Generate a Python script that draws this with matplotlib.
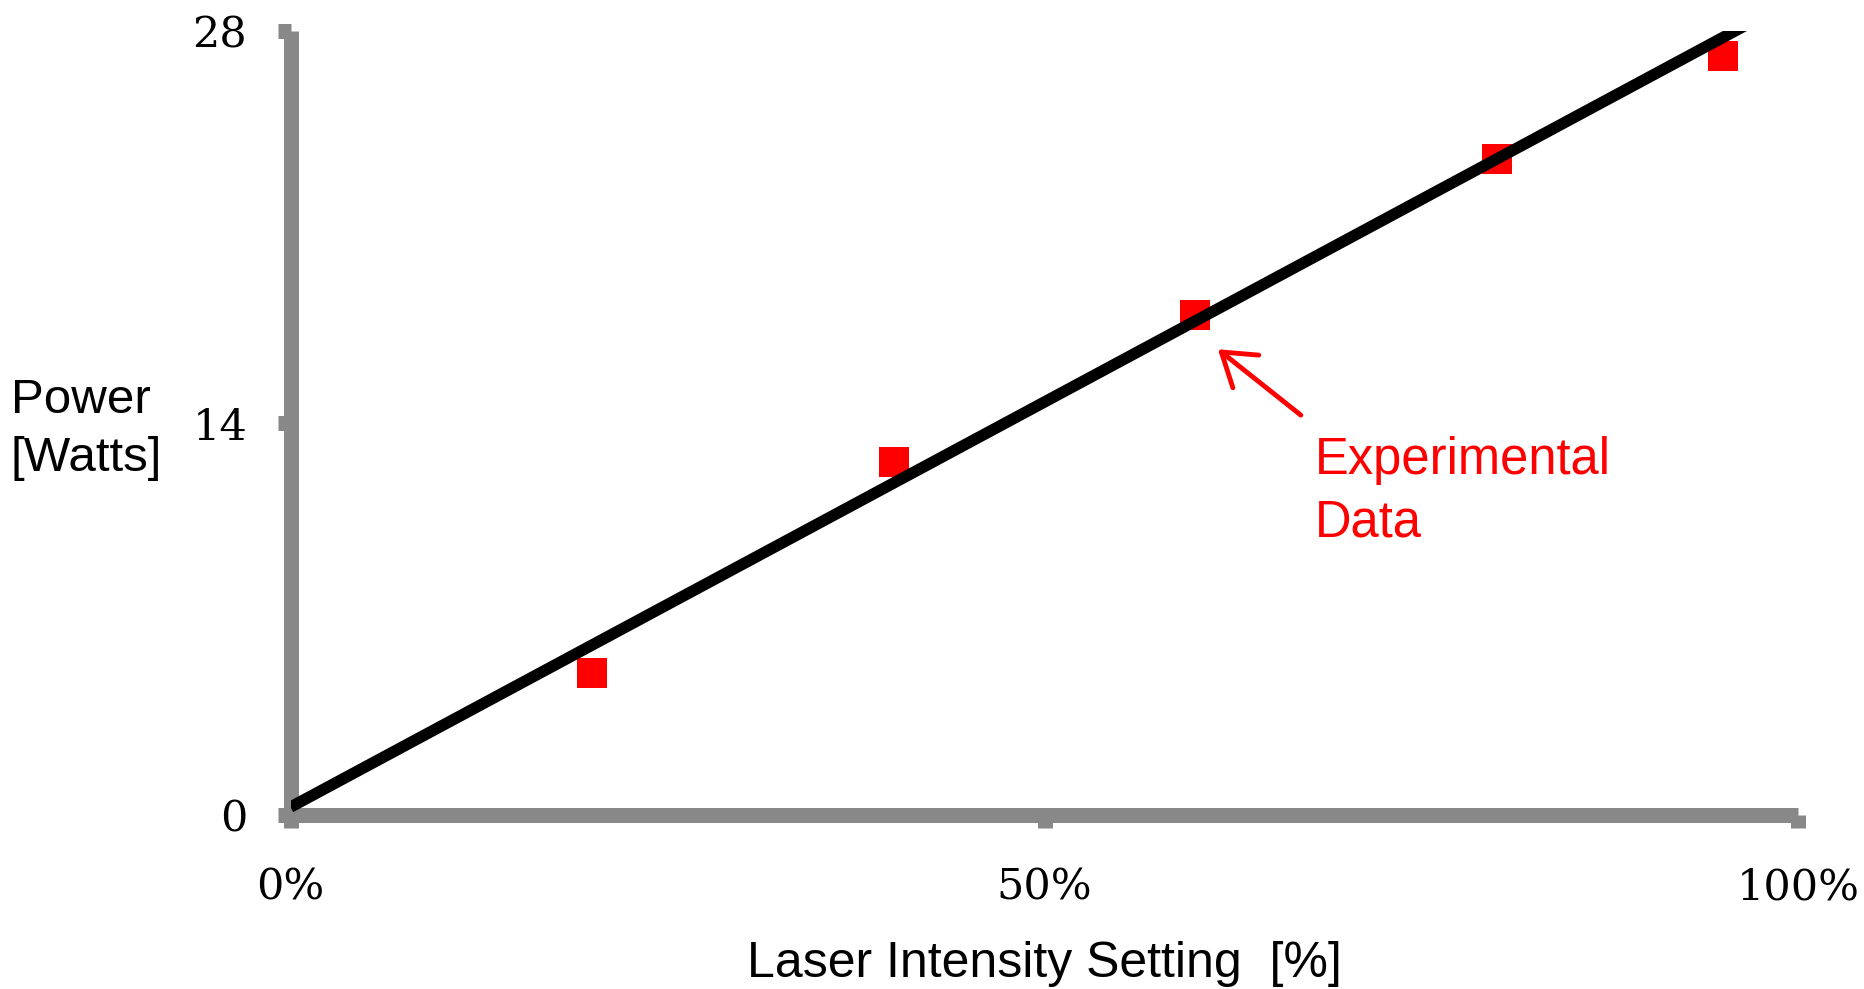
import numpy as np
import matplotlib
matplotlib.use('Agg')
import matplotlib.pyplot as plt

# measured points (laser setting %, power W)
intensity = [20, 40, 60, 80, 95]
power = [5.1, 12.6, 17.85, 23.4, 27.1]

# linear fit drawn across the full range
fit_x = [0, 100]
fit_y = [0.3, 29.2]

x_ticks = [0, 50, 100]
x_ticklabels = ['0%', '50%', '100%']
y_ticks = [0, 14, 28]
y_ticklabels = ['0', '14', '28']

GREY = '#888888'
SANS = ['Liberation Sans', 'DejaVu Sans']
SERIF = ['DejaVu Serif', 'Liberation Serif']


def main():
    fig = plt.figure(figsize=(18.64, 9.89), dpi=100)
    ax = fig.add_axes([0.15585, 0.17543, 0.80901, 0.79373])

    ax.plot(intensity, power, 's', color='#ff0000', markersize=22.3,
            markeredgewidth=0, zorder=3)
    ax.plot(fit_x, fit_y, '-', color='black', linewidth=8.2,
            solid_capstyle='butt', zorder=4)

    ax.set_xlim(0, 100)
    ax.set_ylim(0, 28)

    for side in ['top', 'right']:
        ax.spines[side].set_visible(False)
    for side in ['left', 'bottom']:
        ax.spines[side].set_color(GREY)
        ax.spines[side].set_linewidth(10.8)
        ax.spines[side].set_capstyle('butt')

    ax.set_xticks(x_ticks)
    ax.set_xticklabels(x_ticklabels, fontfamily=SERIF, fontsize=31)
    ax.set_yticks(y_ticks)
    ax.set_yticklabels(y_ticklabels, fontfamily=SERIF, fontsize=31)
    ax.tick_params(axis='both', direction='out', length=9.7, width=10.8,
                   color=GREY)
    ax.tick_params(axis='x', pad=27)
    ax.tick_params(axis='y', pad=21.6)

    # arrow pointing at the data
    ax.annotate('', xy=(61.5, 16.63), xytext=(67.0, 14.28),
                arrowprops=dict(arrowstyle='->, head_length=0.45, head_width=0.3',
                                color='#ff0000', lw=3.5, mutation_scale=50,
                                shrinkA=0, shrinkB=0))
    ax.text(67.9, 13.53, 'Experimental\nData', color='#ff0000',
            fontfamily=SANS, fontsize=36.5, ha='left', va='top',
            linespacing=1.36)

    fig.text(11 / 1864, (989 - 378) / 989, 'Power\n[Watts]',
             fontfamily=SANS, fontsize=35.5, ha='left', va='top',
             linespacing=1.36)
    fig.text(1044 / 1864, 12 / 989, 'Laser Intensity Setting  [%]',
             fontfamily=SANS, fontsize=36, ha='center', va='baseline')

    fig.savefig('out.png', dpi=100)


if __name__ == '__main__':
    main()
